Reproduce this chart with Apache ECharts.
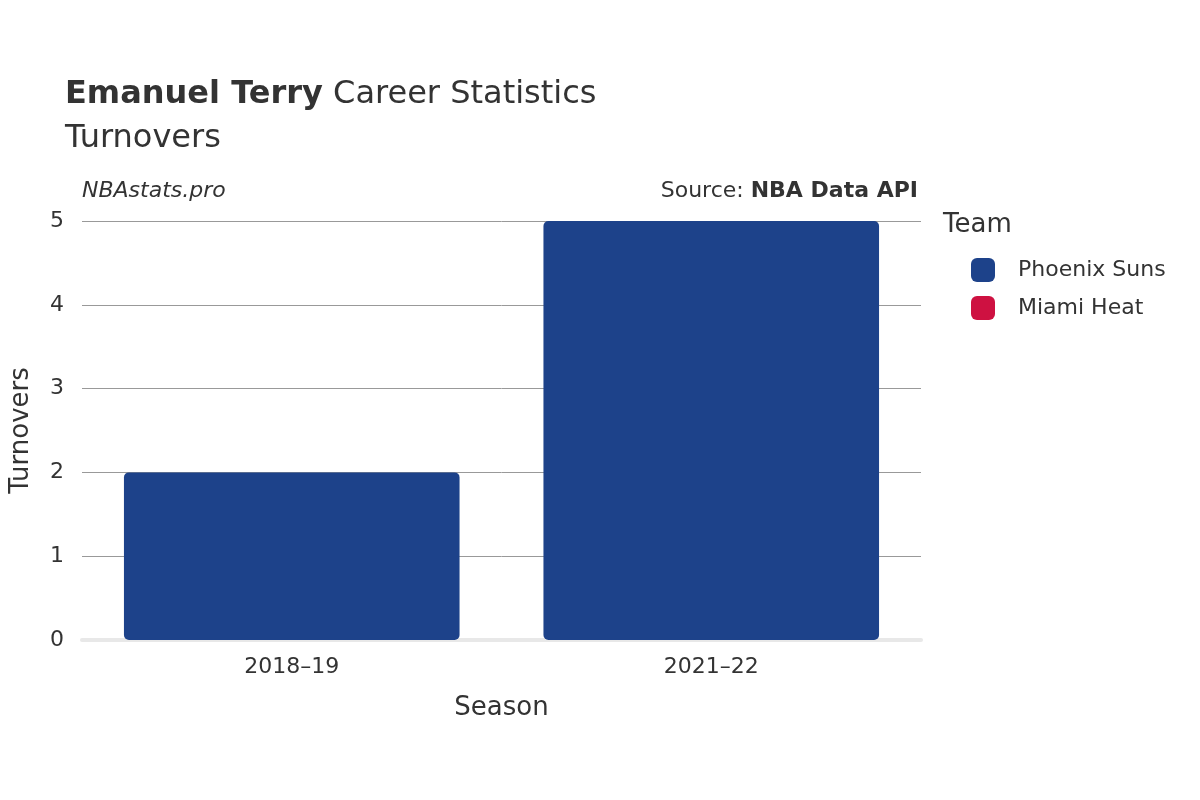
<!DOCTYPE html>
<html>
<head>
<meta charset="UTF-8">
<script src="https://cdn.jsdelivr.net/npm/echarts@6/dist/echarts.min.js"></script>
<style>body{margin:0;background:#fff}#main{width:1200px;height:800px}</style>
</head>
<body>
<div id="main"></div>
<script>
var seasons = ['2018–19', '2021–22'];
var suns = [2, 5];
var heat = [0, 0];
var yTicks = [0, 1, 2, 3, 4, 5];

var chart = echarts.init(document.getElementById('main'));
var font = 'DejaVu Sans';
chart.setOption({
    textStyle: {fontFamily: font},
    animation: false,
    title: {
        left: 60, top: 68,
        text: '{b|Emanuel Terry} Career Statistics\nTurnovers',
        textStyle: {
            fontFamily: font, fontSize: 32, fontWeight: 'normal', color: '#333', lineHeight: 44,
            rich: {b: {fontFamily: font, fontSize: 32, fontWeight: 'bold', color: '#333'}}
        }
    },
    graphic: [
        {type: 'text', left: 82, top: 180, style: {text: 'NBAstats.pro', font: 'italic 22px DejaVu Sans', fill: '#333'}},
        {type: 'text', right: 282, top: 180, style: {
            text: 'Source: {b|NBA Data API}', font: '22px DejaVu Sans', fill: '#333',
            rich: {b: {font: 'bold 22px DejaVu Sans', fill: '#333'}}}},
        {type: 'text', left: 943, top: 212, style: {text: 'Team', font: '26px DejaVu Sans', fill: '#333'}}
    ],
    legend: {
        orient: 'vertical', left: 966, top: 253, itemGap: 14,
        itemWidth: 24, itemHeight: 24, icon: 'roundRect',
        textStyle: {fontSize: 22, color: '#333', padding: [0, 0, 0, 18]},
        data: ['Phoenix Suns', 'Miami Heat']
    },
    grid: {left: 76, right: 279, top: 221, bottom: 160},
    xAxis: {
        type: 'category', data: seasons,
        name: 'Season', nameLocation: 'middle', nameGap: 55,
        nameTextStyle: {fontSize: 26, color: '#333'},
        axisLine: {lineStyle: {color: '#e8e8e8', width: 4}},
        axisTick: {show: false},
        axisLabel: {fontSize: 22, color: '#333', margin: 16}
    },
    yAxis: {
        type: 'value', min: 0, max: 5, interval: 1,
        name: 'Turnovers', nameLocation: 'middle', nameGap: 48,
        nameTextStyle: {fontSize: 26, color: '#333'},
        axisLabel: {fontSize: 22, color: '#333', margin: 18,
            formatter: function (v) { return yTicks.indexOf(v) >= 0 ? String(v) : ''; }},
        splitLine: {lineStyle: {color: '#999', width: 1}}
    },
    series: [
        {name: 'Phoenix Suns', type: 'bar', stack: 't', data: suns, barCategoryGap: '20%',
         itemStyle: {color: '#1d428a', borderRadius: 5}},
        {name: 'Miami Heat', type: 'bar', stack: 't', data: heat,
         itemStyle: {color: '#ce1141', borderRadius: 5}}
    ]
});
</script>
</body>
</html>
